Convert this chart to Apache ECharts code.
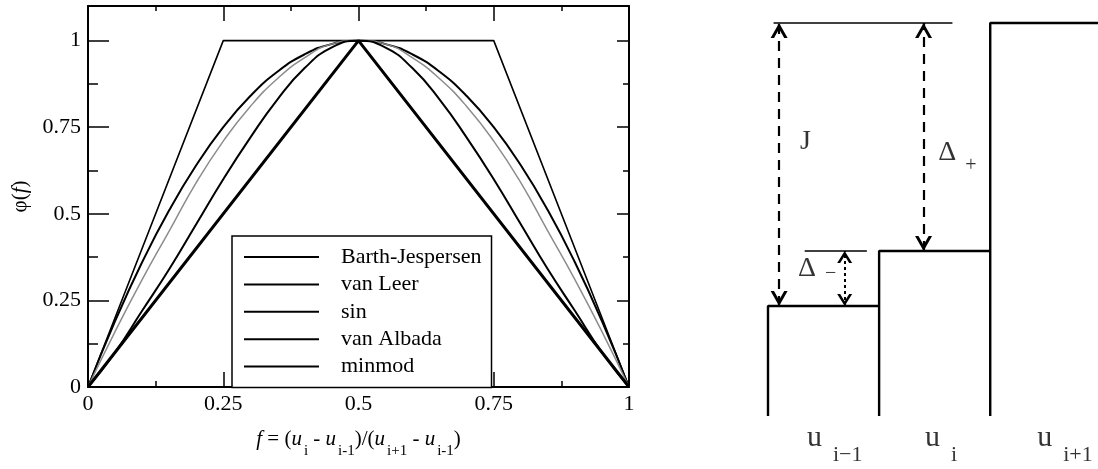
<!DOCTYPE html>
<html>
<head>
<meta charset="utf-8">
<script src="https://cdn.jsdelivr.net/npm/echarts@6/dist/echarts.min.js"></script>
<style>
  html, body { margin: 0; background: #fff; }
  #chart { width: 1098px; height: 469px; }
</style>
</head>
<body>
<div id="chart"></div>
<script>
// limiter curves at f = 0, 0.05, ... 1
const fGrid = [0, 0.05, 0.1, 0.15, 0.2, 0.25, 0.3, 0.35, 0.4, 0.45, 0.5, 0.55, 0.6, 0.65, 0.7, 0.75, 0.8, 0.85, 0.9, 0.95, 1]
const vanLeer = [0, 0.19, 0.36, 0.51, 0.64, 0.75, 0.84, 0.91, 0.96, 0.99, 1, 0.99, 0.96, 0.91, 0.84, 0.75, 0.64, 0.51, 0.36, 0.19, 0]
const sinLimiter = [0, 0.16, 0.31, 0.45, 0.59, 0.71, 0.81, 0.89, 0.95, 0.99, 1, 0.99, 0.95, 0.89, 0.81, 0.71, 0.59, 0.45, 0.31, 0.16, 0]
const vanAlbada = [0, 0.10, 0.22, 0.34, 0.47, 0.60, 0.72, 0.83, 0.92, 0.98, 1, 0.98, 0.92, 0.83, 0.72, 0.60, 0.47, 0.34, 0.22, 0.10, 0]
// piecewise linear ones only need their corners
const barthF = [0, 0.25, 0.75, 1]
const barthPhi = [0, 1, 1, 0]
const minmodF = [0, 0.5, 1]
const minmodPhi = [0, 1, 0]
const legendNames = ['Barth-Jespersen', 'van Leer', 'sin', 'van Albada', 'minmod']
const xTicks = [0, 0.25, 0.5, 0.75, 1]

// right sketch: cell averages u_{i-1}, u_i, u_{i+1}
const cellNames = ['i−1', 'i', 'i+1']
const cellLevels = [0.28, 0.42, 1.0]

const serif = 'Liberation Serif, Times New Roman, serif'
const black = '#000'

const pairs = (xs, ys) => xs.map((x, i) => [x, ys[i]])

// step outline of the three cells
const stepData = []
cellLevels.forEach((lvl, i) => {
  stepData.push([i, 0], [i, lvl], [i + 1, lvl], [i + 1, 0])
})

// open chevron, tip sits in the middle of the symbol box
const arrowHead = 'path://M5,0L5.01,0L5,0.01Z M5,10L10,20L8,20L5,14L2,20L0,20Z'

const chart = echarts.init(document.getElementById('chart'))

const tickLine = { color: black, width: 1.5 }
const frameLine = { onZero: false, lineStyle: { color: black, width: 2 } }

const option = {
  animation: false,
  backgroundColor: '#fff',
  grid: [
    { left: 88, top: 6, width: 541, height: 381 },
    { left: 768, top: 23, width: 330, bottom: 53 }
  ],
  legend: {
    orient: 'vertical',
    left: 232,
    top: 236,
    padding: [10, 10, 10, 11],
    itemWidth: 75,
    itemHeight: 14,
    itemGap: 5.4,
    borderColor: black,
    borderWidth: 1.5,
    backgroundColor: '#fff',
    selectedMode: false,
    itemStyle: { color: 'rgba(0,0,0,0)', borderWidth: 0 },
    textStyle: { fontFamily: serif, fontSize: 22, lineHeight: 22, color: black, padding: [0, 0, 0, 17] },
    data: legendNames.map(n => ({ name: n, lineStyle: { color: black } }))
  },
  xAxis: [
    {
      gridIndex: 0,
      type: 'value',
      position: 'bottom',
      min: xTicks[0],
      max: xTicks[xTicks.length - 1],
      interval: 0.25,
      axisLine: frameLine,
      axisTick: { inside: true, length: 15, lineStyle: tickLine },
      minorTick: { show: true, splitNumber: 2, length: 6, lineStyle: tickLine },
      splitLine: { show: false },
      axisLabel: { color: black, fontFamily: serif, fontSize: 22, margin: 6 },
      name: '{it|f}{n| = (}{it|u}{s|i}{n| - }{it|u}{s|i-1}{n|)/(}{it|u}{s|i+1}{n| - }{it|u}{s|i-1}{n|)}',
      nameLocation: 'middle',
      nameGap: 26,
      nameTextStyle: {
        rich: {
          n: { fontFamily: serif, fontSize: 21, lineHeight: 24, color: black },
          it: { fontFamily: serif, fontSize: 21, lineHeight: 24, fontStyle: 'italic', color: black },
          s: { fontFamily: serif, fontSize: 15, lineHeight: 15, padding: [24, 0, 0, 2], color: black }
        }
      }
    },
    {
      gridIndex: 0,
      type: 'value',
      position: 'top',
      min: 0,
      max: 1,
      interval: 0.25,
      axisLine: frameLine,
      axisTick: { inside: true, length: 15, lineStyle: tickLine },
      minorTick: { show: true, splitNumber: 2, length: 5, lineStyle: tickLine },
      splitLine: { show: false },
      axisLabel: { show: false }
    },
    { gridIndex: 1, type: 'value', min: 0, max: 2.97, show: false }
  ],
  yAxis: [
    {
      gridIndex: 0,
      type: 'value',
      position: 'left',
      min: 0,
      max: 1.1,
      interval: 0.25,
      axisLine: frameLine,
      axisTick: { inside: true, length: 21, lineStyle: tickLine },
      minorTick: { show: true, splitNumber: 2, length: 10, lineStyle: tickLine },
      splitLine: { show: false },
      axisLabel: { color: black, fontFamily: serif, fontSize: 22, margin: 7, showMaxLabel: false },
      name: '{n|φ(}{it|f}{n|)}',
      nameLocation: 'middle',
      nameRotate: 90,
      nameGap: 57,
      nameTextStyle: {
        rich: {
          n: { fontFamily: serif, fontSize: 21, color: black },
          it: { fontFamily: serif, fontSize: 21, fontStyle: 'italic', color: black }
        }
      }
    },
    {
      gridIndex: 0,
      type: 'value',
      position: 'right',
      min: 0,
      max: 1.1,
      interval: 0.25,
      axisLine: frameLine,
      axisTick: { inside: true, length: 12, lineStyle: tickLine },
      minorTick: { show: true, splitNumber: 2, length: 6, lineStyle: tickLine },
      splitLine: { show: false },
      axisLabel: { show: false }
    },
    { gridIndex: 1, type: 'value', min: 0, max: 1, show: false }
  ],
  series: [
    {
      name: 'Barth-Jespersen',
      type: 'line',
      xAxisIndex: 0,
      yAxisIndex: 0,
      symbol: 'none',
      lineStyle: { color: black, width: 1.6 },
      data: pairs(barthF, barthPhi)
    },
    {
      name: 'van Leer',
      type: 'line',
      xAxisIndex: 0,
      yAxisIndex: 0,
      symbol: 'none',
      smooth: true,
      lineStyle: { color: black, width: 2 },
      data: pairs(fGrid, vanLeer)
    },
    {
      name: 'sin',
      type: 'line',
      xAxisIndex: 0,
      yAxisIndex: 0,
      symbol: 'none',
      smooth: true,
      lineStyle: { color: '#8c8c8c', width: 1.5 },
      data: pairs(fGrid, sinLimiter)
    },
    {
      name: 'van Albada',
      type: 'line',
      xAxisIndex: 0,
      yAxisIndex: 0,
      symbol: 'none',
      smooth: true,
      lineStyle: { color: black, width: 2 },
      data: pairs(fGrid, vanAlbada)
    },
    {
      name: 'minmod',
      type: 'line',
      xAxisIndex: 0,
      yAxisIndex: 0,
      symbol: 'none',
      lineStyle: { color: black, width: 3 },
      data: pairs(minmodF, minmodPhi)
    },
    // right sketch
    {
      name: 'cells',
      type: 'line',
      xAxisIndex: 2,
      yAxisIndex: 2,
      symbol: 'none',
      clip: false,
      silent: true,
      lineStyle: { color: black, width: 2.4 },
      data: stepData
    },
    {
      name: 'jump ref',
      type: 'line',
      xAxisIndex: 2,
      yAxisIndex: 2,
      symbol: 'none',
      clip: false,
      silent: true,
      lineStyle: { color: black, width: 1.5 },
      data: [[0.05, cellLevels[2]], [1.66, cellLevels[2]]],
      markLine: {
        silent: true,
        symbol: [arrowHead, arrowHead],
        symbolSize: [17, 30],
        label: { show: false },
        lineStyle: { color: black, width: 2.2, type: [10, 7] },
        emphasis: { disabled: true },
        data: [
          [{ coord: [0.1, cellLevels[0]] }, { coord: [0.1, cellLevels[2]] }],
          [{ coord: [1.4, cellLevels[1]] }, { coord: [1.4, cellLevels[2]] }]
        ]
      }
    },
    {
      name: 'minus ref',
      type: 'line',
      xAxisIndex: 2,
      yAxisIndex: 2,
      symbol: 'none',
      clip: false,
      silent: true,
      lineStyle: { color: black, width: 1.5 },
      data: [[0.33, cellLevels[1]], [0.89, cellLevels[1]]],
      markLine: {
        silent: true,
        symbol: [arrowHead, arrowHead],
        symbolSize: [15, 24],
        label: { show: false },
        lineStyle: { color: black, width: 2, type: [3, 3] },
        emphasis: { disabled: true },
        data: [
          [{ coord: [0.69, cellLevels[0]] }, { coord: [0.69, cellLevels[1]] }]
        ]
      }
    },
    {
      name: 'labels',
      type: 'scatter',
      xAxisIndex: 2,
      yAxisIndex: 2,
      symbolSize: 0,
      clip: false,
      silent: true,
      label: {
        show: true,
        position: 'inside',
        align: 'left',
        verticalAlign: 'middle',
        rich: {
          big: { fontFamily: serif, fontSize: 28, lineHeight: 28, color: black },
          u: { fontFamily: serif, fontSize: 30, lineHeight: 30, color: black },
          s: { fontFamily: serif, fontSize: 22, lineHeight: 22, padding: [34, 0, 0, 11], color: black },
          plus: { fontFamily: serif, fontSize: 20, lineHeight: 20, padding: [26, 0, 0, 9], color: black },
          minus: { fontFamily: serif, fontSize: 20, lineHeight: 20, padding: [10, 0, 0, 9], color: black }
        }
      },
      data: [
        { value: [0.288, 0.697], label: { formatter: '{big|J}' } },
        { value: [1.532, 0.67], label: { formatter: '{big|Δ}{plus|+}' } },
        { value: [0.27, 0.375], label: { formatter: '{big|Δ}{minus|−}' } },
        { value: [0.351, -0.057], label: { formatter: '{u|u}{s|' + cellNames[0] + '}' } },
        { value: [1.414, -0.057], label: { formatter: '{u|u}{s|' + cellNames[1] + '}' } },
        { value: [2.423, -0.057], label: { formatter: '{u|u}{s|' + cellNames[2] + '}' } }
      ]
    }
  ]
}

chart.setOption(option)
</script>
</body>
</html>
